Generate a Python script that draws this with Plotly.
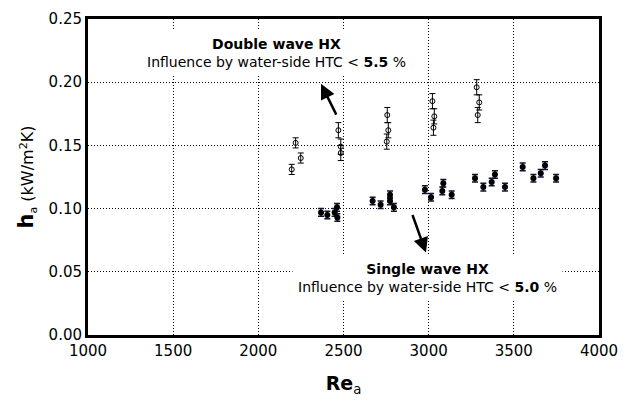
import plotly.graph_objects as go

# Double wave HX (open symbols)
dw_re = [2196, 2219, 2249, 2470, 2484, 2484, 2754, 2757, 2763, 3022, 3028, 3033, 3282, 3288, 3297]
dw_h = [0.131, 0.152, 0.140, 0.162, 0.149, 0.144, 0.153, 0.174, 0.162, 0.185, 0.164, 0.173, 0.196, 0.174, 0.184]
dw_err = [0.004, 0.004, 0.004, 0.006, 0.006, 0.006, 0.006, 0.006, 0.006, 0.006, 0.006, 0.006, 0.006, 0.006, 0.006]

# Single wave HX (filled symbols)
sw_re = [2368, 2405, 2448, 2462, 2464, 2671, 2718, 2773, 2773, 2796, 2978, 3014, 3080, 3086, 3135,
         3272, 3321, 3370, 3389, 3448, 3552, 3615, 3658, 3683, 3748]
sw_h = [0.097, 0.095, 0.097, 0.101, 0.093, 0.106, 0.103, 0.111, 0.106, 0.101, 0.115, 0.109, 0.114, 0.120, 0.111,
        0.124, 0.117, 0.121, 0.127, 0.117, 0.133, 0.124, 0.128, 0.134, 0.124]
sw_err = [0.003] * len(sw_re)

x_ticks = [1000, 1500, 2000, 2500, 3000, 3500, 4000]
y_ticks = [0.00, 0.05, 0.10, 0.15, 0.20, 0.25]

FONT = "DejaVu Sans"
GRID_DASH = "1px,2px"

fig = go.Figure()
fig.add_trace(go.Scatter(
    x=dw_re, y=dw_h, mode="markers",
    marker=dict(symbol="circle-open", size=5, color="black", line=dict(width=1, color="black")),
    error_y=dict(type="data", array=dw_err, visible=True, color="black", thickness=1, width=3),
    showlegend=False,
))
fig.add_trace(go.Scatter(
    x=sw_re, y=sw_h, mode="markers",
    marker=dict(symbol="circle", size=6, color="black"),
    error_y=dict(type="data", array=sw_err, visible=True, color="#111133", thickness=1.5, width=3),
    showlegend=False,
))

# Annotations
fig.add_annotation(
    x=2104, y=0.2228, xref="x", yref="y", showarrow=False,
    text="<b>Double wave HX</b><br>Influence by water-side HTC &lt; <b>5.5</b> %",
    font=dict(family=FONT, size=14, color="black"), bgcolor="white", borderpad=5,
    align="center",
)
fig.add_annotation(
    x=2996, y=0.0448, xref="x", yref="y", showarrow=False,
    text="<b>Single wave HX</b><br>Influence by water-side HTC &lt; <b>5.0</b> %",
    font=dict(family=FONT, size=14, color="black"), bgcolor="white", borderpad=5,
    align="center",
)
# Arrows
fig.add_annotation(
    x=2368, y=0.1987, ax=2462, ay=0.1732, xref="x", yref="y", axref="x", ayref="y",
    showarrow=True, arrowhead=2, arrowsize=1.2, arrowwidth=2.5, arrowcolor="black", text="",
)
fig.add_annotation(
    x=2984, y=0.0652, ax=2902, ay=0.0961, xref="x", yref="y", axref="x", ayref="y",
    showarrow=True, arrowhead=2, arrowsize=1.2, arrowwidth=2.5, arrowcolor="black", text="",
)

fig.update_xaxes(
    range=[1000, 4000], tickvals=x_ticks, ticktext=[str(v) for v in x_ticks],
    showgrid=True, gridcolor="black", griddash=GRID_DASH, gridwidth=1,
    showline=True, linecolor="black", linewidth=3, mirror=True, zeroline=False,
    ticks="", tickfont=dict(family=FONT, size=15, color="black"),
    title=dict(text="<b>Re</b><sub>a</sub>", font=dict(family=FONT, size=19, color="black"), standoff=18),
)
fig.update_yaxes(
    range=[0, 0.25], tickvals=y_ticks, ticktext=["%.2f" % v for v in y_ticks],
    showgrid=True, gridcolor="black", griddash=GRID_DASH, gridwidth=1,
    showline=True, linecolor="black", linewidth=3, mirror=True, zeroline=False,
    ticks="", tickfont=dict(family=FONT, size=15, color="black"),
    title=dict(text="<b><span style='font-size:21px'>h</span></b><sub>a</sub> (kW/m<sup>2</sup>K)",
               font=dict(family=FONT, size=16, color="black"), standoff=11),
)
fig.update_layout(
    width=635, height=402,
    margin=dict(l=88, r=36, t=10, b=67),
    paper_bgcolor="white", plot_bgcolor="white",
)
fig.write_html("out.html")
